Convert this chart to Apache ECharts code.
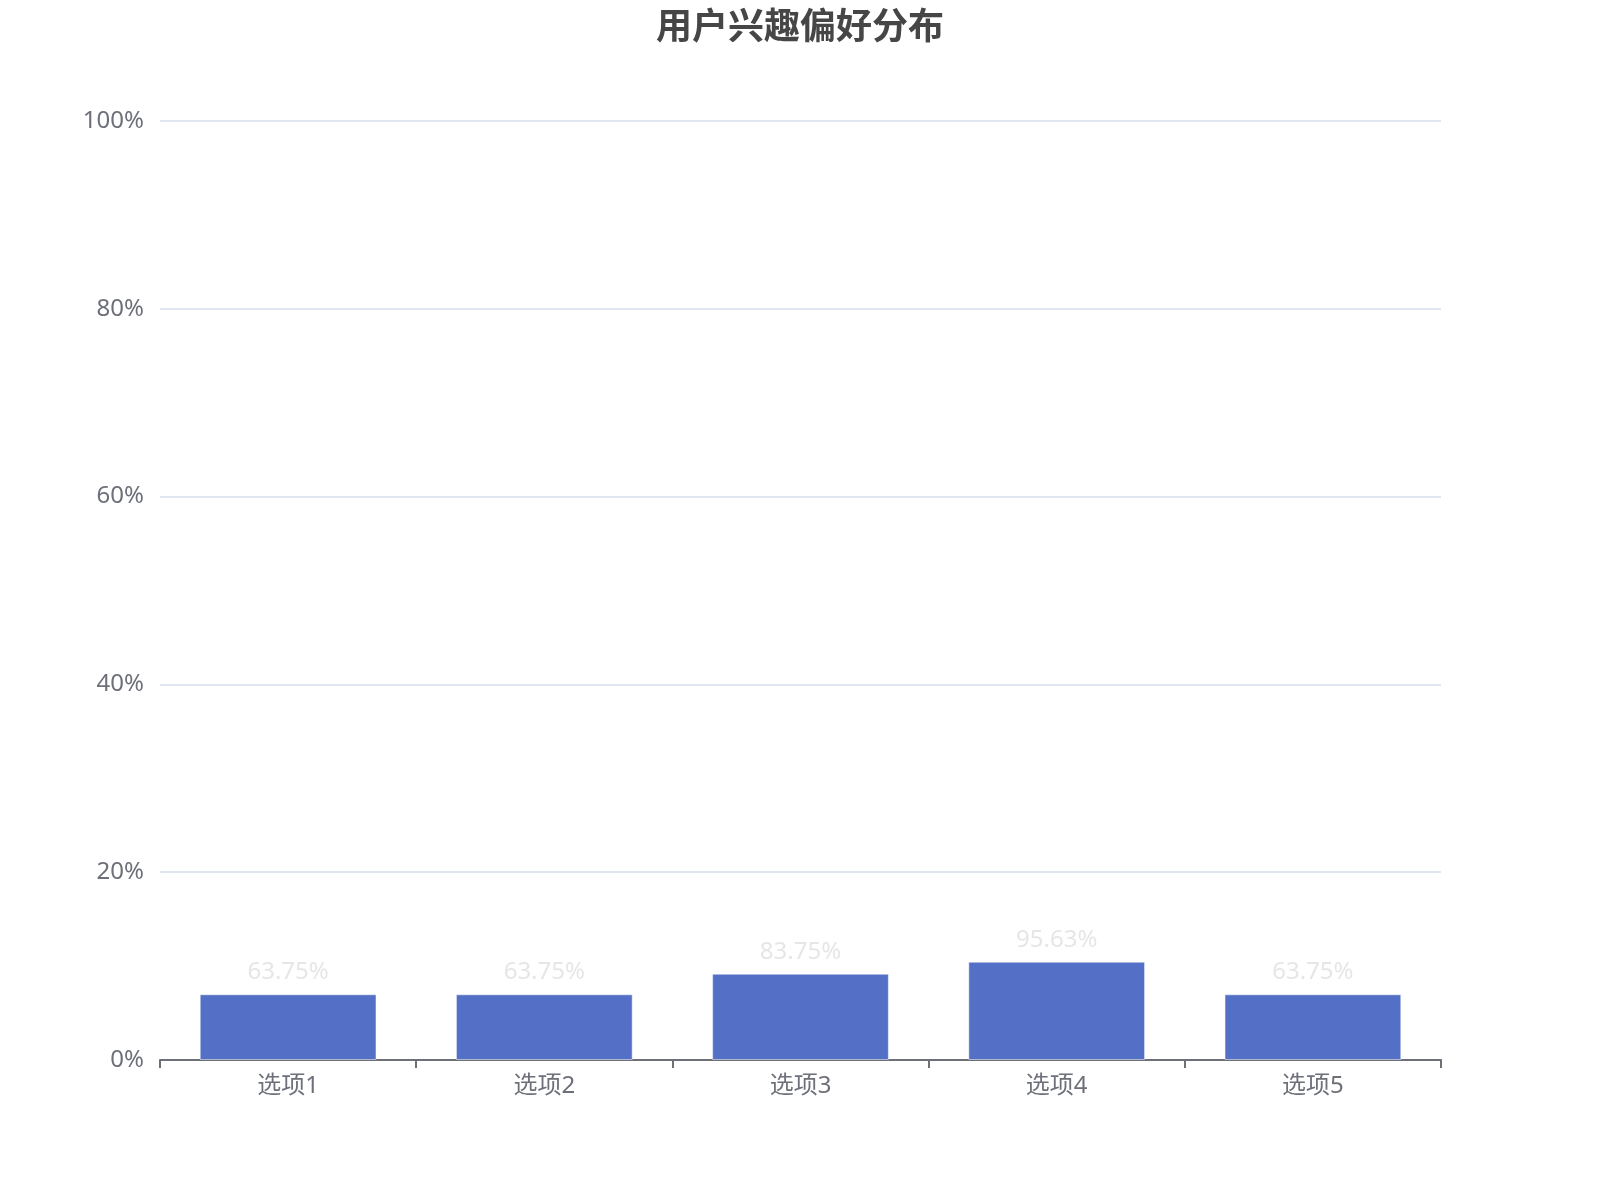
<!DOCTYPE html>
<html>
<head>
<meta charset="utf-8">
<title>用户兴趣偏好分布</title>
<script src="https://cdn.jsdelivr.net/npm/echarts@6/dist/echarts.min.js"></script>
<style>
  html, body { margin: 0; padding: 0; background: #fff; }
  #chart { width: 1600px; height: 1200px; }
</style>
</head>
<body>
<div id="chart"></div>
<script>
const categories = ['选项1', '选项2', '选项3', '选项4', '选项5'];
// bar heights (percent)
const barValues = [7.0, 7.0, 9.19, 10.47, 7.0];
// texts printed above the bars
const barLabels = ['63.75%', '63.75%', '83.75%', '95.63%', '63.75%'];
const yTicks = [0, 20, 40, 60, 80, 100];

const fontFamily = "'Noto Sans', 'Noto Sans CJK SC', sans-serif";

const getOptionChart = () => {
  return {
    textStyle: { fontFamily: fontFamily },
    title: {
      text: '用户兴趣偏好分布',
      left: 'center',
      top: 6,
      textStyle: {
        fontSize: 36,
        fontWeight: 'bold',
        color: '#464646',
        fontFamily: fontFamily
      }
    },
    grid: {
      left: 160,
      right: 159,
      top: 121,
      bottom: 140
    },
    xAxis: {
      type: 'category',
      data: categories,
      axisLine: { lineStyle: { color: '#6e7079', width: 2 } },
      axisTick: { show: true, length: 8, lineStyle: { color: '#6e7079', width: 2 } },
      axisLabel: { fontSize: 24, color: '#6e7079', margin: 14 }
    },
    yAxis: {
      type: 'value',
      min: yTicks[0],
      max: yTicks[yTicks.length - 1],
      interval: yTicks[1] - yTicks[0],
      axisLabel: {
        fontSize: 24,
        color: '#6e7079',
        margin: 16,
        formatter: '{value}%'
      },
      splitLine: { lineStyle: { color: '#e0e6f1', width: 2 } }
    },
    series: [
      {
        type: 'bar',
        data: barValues,
        barWidth: '69%',
        itemStyle: {
          color: '#5470c6',
          borderColor: 'rgba(255,255,255,0.5)',
          borderWidth: 1
        },
        label: {
          show: true,
          position: 'top',
          fontSize: 24,
          color: '#e6e6e6',
          distance: 10,
          formatter: (p) => barLabels[p.dataIndex]
        }
      }
    ]
  };
};

const initCharts = () => {
  const chart = echarts.init(document.getElementById('chart'));
  chart.setOption(getOptionChart());
};

window.addEventListener('load', () => {
  initCharts();
});
</script>
</body>
</html>
